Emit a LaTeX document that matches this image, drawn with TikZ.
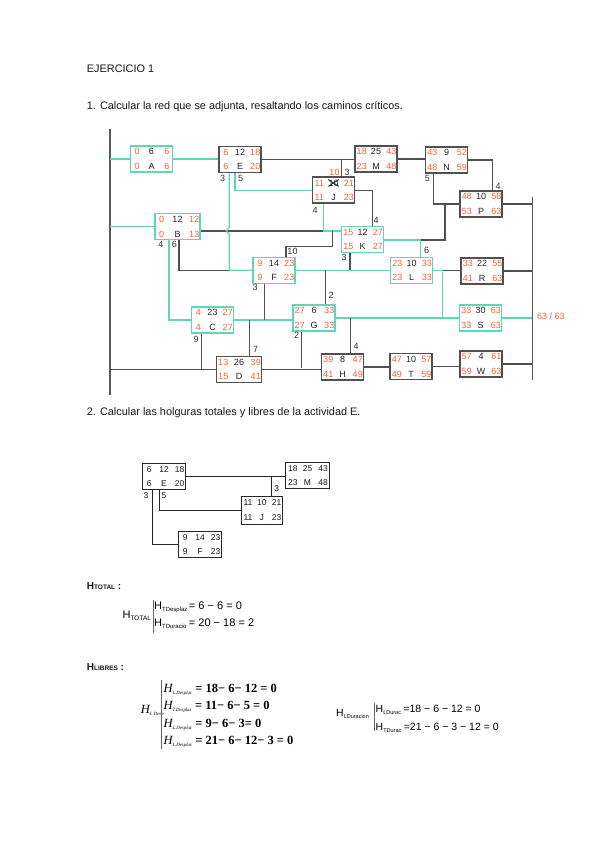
\documentclass[tikz,border=0pt]{standalone}
\usepackage{fontspec}
\setmainfont{Liberation Sans}
\newfontfamily\tms{Liberation Serif}
\definecolor{tealc}{RGB}{96,214,184}
\definecolor{numr}{RGB}{250,96,64}
\definecolor{dk}{RGB}{80,80,80}
\newcommand\fs[1]{\fontsize{#1}{#1}\selectfont}
\tikzset{
  box/.style={rectangle, minimum width=42pt, minimum height=26pt, inner sep=0pt, fill=white, line width=1.5pt},
  cbox/.style={box, draw=tealc},
  nbox/.style={box, draw=dk},
  cl/.style={draw=tealc, line width=1.2pt},
  nl/.style={draw=dk, line width=1.05pt},
  sl/.style={draw=black!65, line width=1.6pt},
  tnum/.style={inner sep=0pt, font=\fs{9}, text=numr},
  tmid/.style={inner sep=0pt, font=\fs{9}, text=black!85},
  lag/.style={inner sep=0pt, font=\fs{9}, text=black!80},
  txt/.style={inner sep=0pt, anchor=base west, font=\fs{10.9}, text=black!90},
  bar/.style={draw=black!60, line width=0.6pt},
}
\newcommand\actv[9]{%
  \node[#2] (#1) at (#3) {};
  \node[tnum] (#1-es) at ([shift={(7.5,6.5)}]#1.north west) {#4};
  \node[tmid] (#1-d) at ([shift={(0,6.5)}]#1.north) {#5};
  \node[tnum] (#1-ef) at ([shift={(-6.5,6.5)}]#1.north east) {#6};
  \node[tnum] (#1-ls) at ([shift={(7.5,-6.5)}]#1.south west) {#7};
  \node[tmid] (#1-n) at ([shift={(0,-6.5)}]#1.south) {#8};
  \node[tnum] (#1-lf) at ([shift={(-6.5,-6.5)}]#1.south east) {#9};
}
\begin{document}
\begin{tikzpicture}[x=1pt,y=-1pt]
\fill[white] (0,0) rectangle (599,848);
\useasboundingbox (0,0) rectangle (599,848);

% ---------- texts ----------
\node[txt] (t1) at (86.7,72.3) {EJERCICIO 1};
\node[txt] (t2) at (86.7,110) {1. Calcular la red que se adjunta, resaltando los caminos críticos.};
\node[txt] (t3) at (86.7,415) {2. Calcular las holguras totales y libres de la actividad E.};

% ---------- network: routing coordinates ----------
\coordinate (LT) at (110,129);
\coordinate (LB) at (110,395);
\coordinate (RT) at (532.3,196.7);
\coordinate (RB) at (532.3,380);
\coordinate (jm) at (341.7,159.5);
\coordinate (np) at (492.7,160);
\coordinate (nb) at (433.3,204);
\coordinate (kl) at (420.7,240);
\coordinate (kp) at (445,240);
\coordinate (ej) at (235,190.2);
\coordinate (jk) at (372.3,190.2);
\coordinate (jb) at (323.3,231);
\coordinate (bf1) at (332.7,231);
\coordinate (bf2) at (332.7,246.7);
\coordinate (bf3) at (286,246.7);
\coordinate (efc) at (229.3,270.3);
\coordinate (bc) at (169,320);
\coordinate (bff) at (179,270.3);
\coordinate (kf) at (350,270.3);
\coordinate (fg) at (325.7,270.3);
\coordinate (lr) at (442.7,270.3);
\coordinate (ls) at (442.7,318);
\coordinate (fc) at (264.3,320);
\coordinate (cd) at (201.7,369.3);
\coordinate (cgd) at (249.3,320);
\coordinate (gh) at (301.7,368);
\coordinate (gsh) at (350.7,318);

\draw[sl] (LT) -- (LB);
\draw[sl] (RT) -- (RB);

\actv{A}{cbox}{151.5,159}{0}{6}{6}{0}{A}{6}
\actv{E}{nbox}{240,159.5}{6}{12}{18}{6}{E}{20}
\actv{M}{nbox}{376,159}{18}{25}{43}{23}{M}{48}
\actv{N}{nbox}{446.5,160}{43}{9}{52}{48}{N}{59}
\actv{J}{nbox}{333.5,190.2}{11}{10}{21}{11}{J}{23}
\draw[line width=0.9pt, black!85] (J-d.north west) -- (J-d.south east) (J-d.south west) -- (J-d.north east);
\actv{P}{nbox}{481,204}{48}{10}{58}{53}{P}{63}
\actv{B}{cbox, minimum width=45pt}{177.5,226.7}{0}{12}{12}{0}{B}{13}
\actv{K}{cbox}{362.5,239.5}{15}{12}{27}{15}{K}{27}
\actv{F}{cbox}{274,270.3}{9}{14}{23}{9}{F}{23}
\actv{L}{cbox}{411.5,270.3}{23}{10}{33}{23}{L}{33}
\actv{R}{nbox}{482,271}{33}{22}{55}{41}{R}{63}
\actv{C}{cbox}{212.5,320}{4}{23}{27}{4}{C}{27}
\actv{G}{cbox}{314,318}{27}{6}{33}{27}{G}{33}
\actv{S}{cbox}{480.5,318}{33}{30}{63}{33}{S}{63}
\actv{D}{nbox, minimum width=45pt}{239,369.3}{13}{26}{39}{15}{D}{41}
\actv{H}{nbox}{342.5,367}{39}{8}{47}{41}{H}{49}
\actv{T}{nbox}{411,366.7}{47}{10}{57}{49}{T}{59}
\actv{W}{nbox}{481,364}{57}{4}{61}{59}{W}{63}

% connectors
\draw[cl] (A.west -| LT) -- (A.west);
\draw[cl] (B.west -| LT) -- (B.west);
\draw[nl] (D.west -| LT) -- (D.west);
\draw[cl] (A.east) -- (A.east -| E.west);
\draw[nl] (E.east) -- (E.east -| M.west);
\draw[nl] (J.north -| jm) -- (jm);
\draw[nl] (M.east) -- (M.east -| N.west);
\draw[nl] (N.east) -- (np) -- (np |- P.north);
\draw[nl] (N.south -| nb) -- (nb) -- (P.west);
\draw[cl] (K.east |- kl) -- (kl) -- (kl |- L.north);
\draw[nl] (kl) -- (kp) -- (kp |- P.west);
\draw[nl] (P.east) -- (P.east -| RT);
\draw[cl] (E.south -| ej) -- (ej) -- (J.west);
\draw[nl] (J.east) -- (jk) -- (jk |- K.north);
\draw[cl] (J.south -| jb) -- (jb) -- (jb -| K.west);
\draw[nl] (B.east |- jb) -- (jb);
\draw[nl] (bf1) -- (bf2) -- (bf3) -- (bf3 |- F.north);
\draw[cl] (E.south -| efc) -- (229.3,227.5) -- (226.3,231) -- (229.3,234.5) -- (efc) -- (F.west);
\draw[cl] (B.south -| bc) -- (bc) -- (C.west);
\draw[nl] (B.south -| bff) -- (bff) -- (efc);
\draw[cl] (F.east) -- (L.west);
\draw[nl] (K.south -| kf) -- (kf);
\draw[nl] (fg) -- (fg |- G.north);
\draw[cl] (L.east) -- (lr);
\draw[nl] (lr) -- (lr -| R.west);
\draw[cl] (lr) -- (ls);
\draw[cl] (G.east) -- (G.east -| S.west);
\draw[cl] (S.east) -- (S.east -| RT);
\draw[nl] (R.east) -- (R.east -| RT);
\draw[nl] (W.east) -- (W.east -| RT);
\draw[cl] (C.east) -- (C.east -| G.west);
\draw[nl] (F.south -| fc) -- (fc);
\draw[nl] (C.south -| cd) -- (cd);
\draw[nl] (cgd) -- (cgd |- D.north);
\draw[nl] (D.east) -- (D.east -| H.west);
\draw[nl] (G.south -| gh) -- (gh);
\draw[nl] (gsh) -- (gsh |- H.north);
\draw[nl] (H.east) -- (H.east -| T.west);
\draw[nl] (T.east) -- (T.east -| W.west);

% lag labels
\node[lag] (l1) at (222.7,178.5) {3};
\node[lag] (l2) at (240.5,178.5) {5};
\node[tnum] (l3) at (334.5,172) {10};
\node[lag] (l4) at (347,172) {3};
\node[lag] (l5) at (315,210.7) {4};
\node[lag] (l6) at (376,220) {4};
\node[lag] (l7) at (427.3,178.5) {5};
\node[lag] (l8) at (498,186) {4};
\node[lag] (l9) at (426.5,250) {6};
\node[lag] (l10) at (344,257) {3};
\node[lag] (l11) at (161,244.5) {4};
\node[lag] (l12) at (174.3,244.5) {6};
\node[lag] (l13) at (292.5,251.5) {10};
\node[lag] (l14) at (255,287) {3};
\node[lag] (l15) at (331,295) {2};
\node[lag] (l16) at (196,339.3) {9};
\node[lag] (l17) at (255.5,349.3) {7};
\node[lag] (l18) at (296.7,335) {2};
\node[lag] (l19) at (356,346.7) {4};
\node[tnum, anchor=west] (fin) at (537,316.7) {63 / 63};

% ---------- part 2 ----------
\begin{scope}[box/.style={rectangle, minimum width=43.4pt, minimum height=26pt, inner sep=0pt, fill=white, line width=0.9pt},
  nbox/.style={box, draw=black!85},
  tnum/.style={inner sep=0pt, font=\fs{8.5}, text=black!90},
  tmid/.style={inner sep=0pt, font=\fs{8.5}, text=black!90},
  lag/.style={inner sep=0pt, font=\fs{8.5}, text=black!90},
  nl/.style={draw=black!85, line width=0.9pt}]
\actv{E2}{nbox}{164,476.2}{6}{12}{18}{6}{E}{20}
\actv{M2}{nbox}{307.5,475.3}{18}{25}{43}{23}{M}{48}
\actv{J2}{nbox, minimum width=41.7pt, minimum height=27.3pt}{261.8,510.3}{11}{10}{21}{11}{J}{23}
\actv{F2}{nbox}{200,544.3}{9}{14}{23}{9}{F}{23}
\coordinate (em2) at (271.7,476.2);
\coordinate (ej2) at (159.3,510.3);
\coordinate (ef2) at (152.7,544.3);
\draw[nl] (E2.east) -- (E2.east -| M2.west);
\draw[nl] (em2) -- (em2 |- J2.north);
\draw[nl] (E2.south -| ej2) -- (ej2) -- (J2.west);
\draw[nl] (E2.south -| ef2) -- (ef2) -- (F2.west);
\node[lag] (m1) at (146,495.7) {3};
\node[lag] (m2) at (164,495.7) {5};
\node[lag] (m3) at (276.7,488.3) {3};
\end{scope}

% ---------- H total ----------
\node[txt, font=\fs{10}\bfseries] (hh1) at (86.7,589) {H{\fs{6.5}TOTAL} :};
\node[inner sep=0pt, anchor=base west, font=\fs{11}] (ht) at (122.5,618) {H\raisebox{-2pt}{\fs{6.5}TOTAL}};
\draw[bar] (153.3,600) -- (153.3,633.3);
\node[inner sep=0pt, anchor=base west, font=\fs{11}] (ht1) at (154,609) {H\raisebox{-2pt}{\fs{6}TDesplaz}\hspace{1.5pt}= 6 − 6 = 0};
\node[inner sep=0pt, anchor=base west, font=\fs{11}] (ht2) at (154,626.7) {H\raisebox{-2pt}{\fs{6}TDuracio}\hspace{2.5pt}= 20 − 18 = 2};

% ---------- H libres ----------
\node[txt, font=\fs{10}\bfseries] (hh2) at (86.7,670) {H{\fs{6.5}LIBRES} :};
\node[inner sep=0pt, anchor=base west, font=\tms\fs{12.5}] (hl) at (140.7,713) {\itshape H\raisebox{-2pt}{\fs{4.8}L.Desp}};
\draw[bar] (161,680) -- (161,749);
\node[inner sep=0pt, anchor=base west, font=\tms\fs{12.5}] (hl1) at (163.3,692) {{\itshape H\raisebox{-2pt}{\fs{4.8}L.Desplaz}}\hspace{3.5pt}\textbf{= 18− 6− 12 = 0}};
\node[inner sep=0pt, anchor=base west, font=\tms\fs{12.5}] (hl2) at (163.3,709.5) {{\itshape H\raisebox{-2pt}{\fs{4.8}T.Desplaz}}\hspace{3.5pt}\textbf{= 11− 6− 5 = 0}};
\node[inner sep=0pt, anchor=base west, font=\tms\fs{12.5}] (hl3) at (163.3,727) {{\itshape H\raisebox{-2pt}{\fs{4.8}L.Desplaz}}\hspace{3.5pt}\textbf{= 9− 6− 3= 0}};
\node[inner sep=0pt, anchor=base west, font=\tms\fs{12.5}] (hl4) at (163.3,744.5) {{\itshape H\raisebox{-2pt}{\fs{4.8}L.Desplaz}}\hspace{3.5pt}\textbf{= 21− 6− 12− 3 = 0}};

\node[inner sep=0pt, anchor=base west, font=\fs{10.5}] (hd) at (336,716.5) {H\raisebox{-2pt}{\fs{5.5}LDuracion}};
\draw[bar] (374.3,702.7) -- (374.3,731);
\node[inner sep=0pt, anchor=base west, font=\fs{10.5}] (hd1) at (375.5,712.6) {H\raisebox{-2pt}{\fs{5.5}LDurac}\hspace{2.5pt}=18 − 6 − 12 = 0};
\node[inner sep=0pt, anchor=base west, font=\fs{10.5}] (hd2) at (375.5,730) {H\raisebox{-2pt}{\fs{5.5}TDurac}\hspace{2.5pt}=21 − 6 − 3 − 12 = 0};
\end{tikzpicture}
\end{document}
